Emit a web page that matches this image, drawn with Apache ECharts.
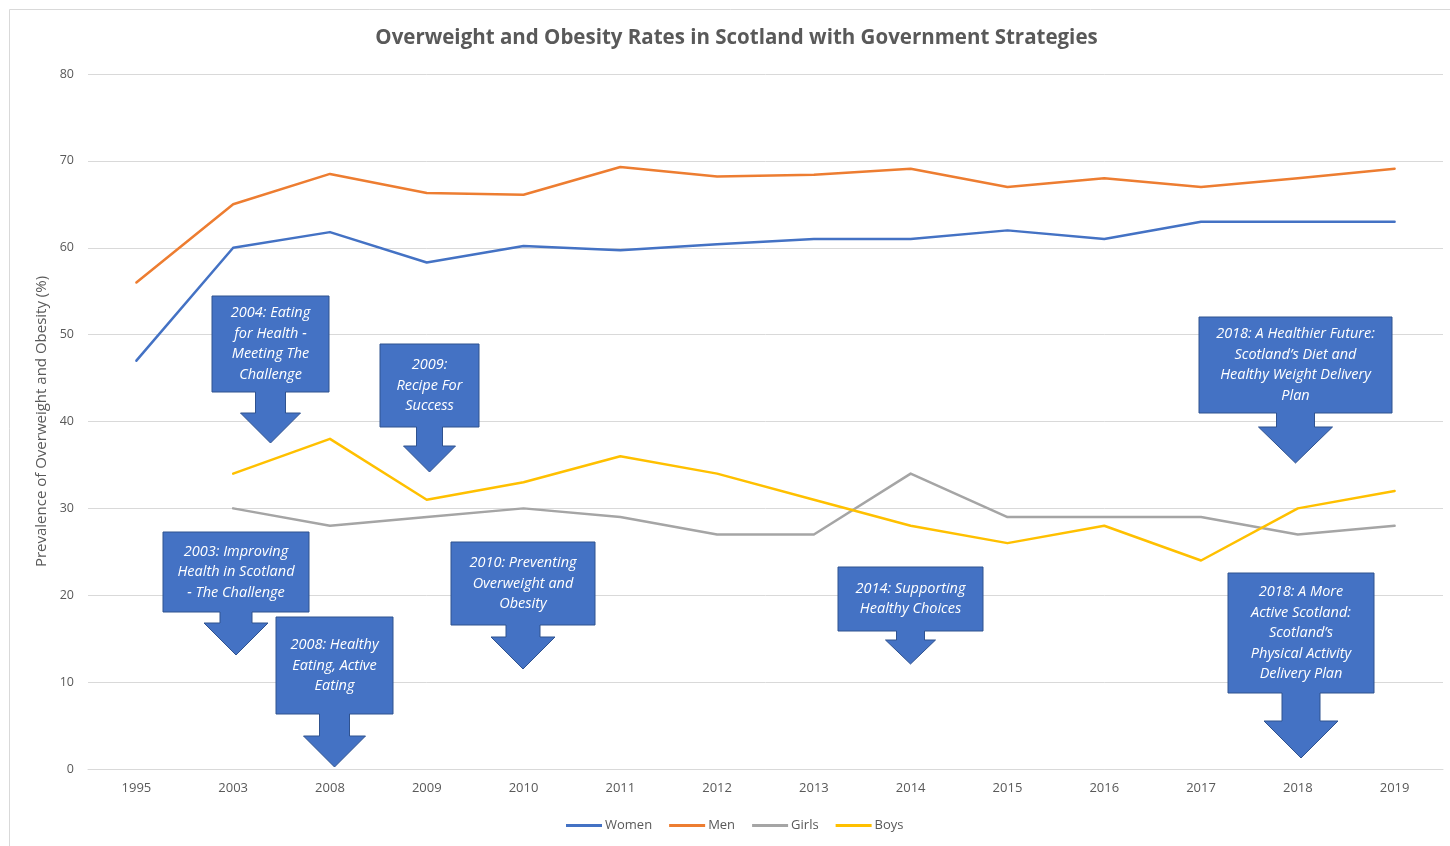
<!DOCTYPE html>
<html>
<head>
<meta charset="utf-8">
<script src="https://cdn.jsdelivr.net/npm/echarts@6/dist/echarts.min.js"></script>
<style>
  html, body { margin: 0; padding: 0; background: #ffffff; }
  #chart { width: 1450px; height: 846px; }
</style>
</head>
<body>
<div id="chart"></div>
<script>
// Survey years (category axis)
const years = ['1995', '2003', '2008', '2009', '2010', '2011', '2012', '2013', '2014', '2015', '2016', '2017', '2018', '2019'];

// Prevalence of overweight and obesity (%)
const women = [47, 60, 61.8, 58.3, 60.2, 59.7, 60.4, 61, 61, 62, 61, 63, 63, 63];
const men   = [56, 65, 68.5, 66.3, 66.1, 69.3, 68.2, 68.4, 69.1, 67, 68, 67, 68, 69.1];
const girls = [null, 30, 28, 29, 30, 29, 27, 27, 34, 29, 29, 29, 27, 28];
const boys  = [null, 34, 38, 31, 33, 36, 34, 31, 28, 26, 28, 24, 30, 32];

// Government strategy call-out texts
const strategies = [
  '2004: Eating\nfor Health -\nMeeting The\nChallenge',
  '2009:\nRecipe For\nSuccess',
  '2003: Improving\nHealth in Scotland\n- The Challenge',
  '2008: Healthy\nEating, Active\nEating',
  '2010: Preventing\nOverweight and\nObesity',
  '2014: Supporting\nHealthy Choices',
  '2018: A Healthier Future:\nScotland\u2019s Diet and\nHealthy Weight Delivery\nPlan',
  '2018: A More\nActive Scotland:\nScotland\u2019s\nPhysical Activity\nDelivery Plan'
];

// Call-out placement (box edges, stem/head half-widths, head top and tip), in pixels
const calloutLayout = [
  { x0: 212, x1: 329, y0: 296, y1: 392, stem: 15, head: 30, headTop: 413, tip: 443 },
  { x0: 380, x1: 479, y0: 344, y1: 427, stem: 13, head: 26, headTop: 446, tip: 472 },
  { x0: 163, x1: 309, y0: 532, y1: 612, stem: 16, head: 32, headTop: 623, tip: 655 },
  { x0: 276, x1: 393, y0: 617, y1: 714, stem: 15, head: 31, headTop: 736, tip: 767 },
  { x0: 451, x1: 595, y0: 542, y1: 625, stem: 17, head: 32, headTop: 637, tip: 669 },
  { x0: 838, x1: 983, y0: 567, y1: 631, stem: 14, head: 25, headTop: 640, tip: 664 },
  { x0: 1199, x1: 1392, y0: 317, y1: 413, stem: 19, head: 37, headTop: 427, tip: 463 },
  { x0: 1228, x1: 1374, y0: 573, y1: 693, stem: 19, head: 37, headTop: 721, tip: 758 }
];

const seriesDefs = [
  { name: 'Women', data: women, color: '#4472C4' },
  { name: 'Men',   data: men,   color: '#ED7D31' },
  { name: 'Girls', data: girls, color: '#A5A5A5' },
  { name: 'Boys',  data: boys,  color: '#FFC000' }
];

const textColor = '#595959';
const gridColor = '#D9D9D9';
const calloutFill = '#4472C4';
const calloutStroke = '#2F528F';

function calloutGraphics() {
  const out = [];
  strategies.forEach((txt, i) => {
    const L = calloutLayout[i];
    const cx = (L.x0 + L.x1) / 2;
    const pts = [
      [L.x0, L.y0], [L.x1, L.y0], [L.x1, L.y1],
      [cx + L.stem, L.y1], [cx + L.stem, L.headTop], [cx + L.head, L.headTop],
      [cx, L.tip],
      [cx - L.head, L.headTop], [cx - L.stem, L.headTop], [cx - L.stem, L.y1],
      [L.x0, L.y1]
    ];
    out.push({
      type: 'polygon',
      shape: { points: pts },
      style: { fill: calloutFill, stroke: calloutStroke, lineWidth: 1 },
      z: 100
    });
    out.push({
      type: 'text',
      x: cx,
      y: (L.y0 + L.y1) / 2,
      style: {
        text: txt,
        fill: '#ffffff',
        font: 'italic 14.5px "Open Sans"',
        align: 'center',
        verticalAlign: 'middle',
        lineHeight: 20.5
      },
      z: 101
    });
  });
  return out;
}

const chart = echarts.init(document.getElementById('chart'), null, { renderer: 'canvas' });

chart.setOption({
  backgroundColor: '#ffffff',
  animation: false,
  title: {
    text: 'Overweight and Obesity Rates in Scotland with Government Strategies',
    left: 731.5,
    textAlign: 'center',
    top: 23,
    textStyle: { color: textColor, fontSize: 20.5, fontWeight: 'bold', fontFamily: 'Open Sans' }
  },
  grid: { left: 88, right: 7, top: 74, bottom: 77, containLabel: false },
  legend: {
    data: seriesDefs.map(s => s.name),
    bottom: 9,
    left: 561,
    icon: 'rect',
    itemWidth: 36,
    itemHeight: 3,
    itemGap: 17,
    textStyle: { color: textColor, fontSize: 13, fontFamily: 'Open Sans', padding: [0, 0, 0, -2] }
  },
  xAxis: {
    type: 'category',
    data: years,
    boundaryGap: true,
    axisLine: { show: true, lineStyle: { color: gridColor, width: 1 } },
    axisTick: { show: false },
    axisLabel: { color: textColor, fontSize: 13, fontFamily: 'Open Sans', margin: 13 }
  },
  yAxis: {
    type: 'value',
    min: 0,
    max: 80,
    interval: 10,
    name: 'Prevalence of Overweight and Obesity (%)',
    nameLocation: 'middle',
    nameGap: 38,
    nameTextStyle: { color: textColor, fontSize: 15, fontFamily: 'Open Sans' },
    axisLine: { show: false },
    axisTick: { show: false },
    axisLabel: { color: textColor, fontSize: 12.5, fontFamily: 'Open Sans', margin: 14 },
    splitLine: { lineStyle: { color: gridColor, width: 1 } }
  },
  series: seriesDefs.map(s => ({
    name: s.name,
    type: 'line',
    data: s.data,
    showSymbol: false,
    symbol: 'none',
    connectNulls: false,
    lineStyle: { color: s.color, width: 2.5, cap: 'round', join: 'round' },
    itemStyle: { color: s.color },
    z: 3
  })),
  graphic: [
    {
      type: 'rect',
      shape: { x: 9.5, y: 9.5, width: 1500, height: 900 },
      style: { fill: null, stroke: gridColor, lineWidth: 1 },
      z: -1,
      silent: true
    }
  ].concat(calloutGraphics())
});
</script>
</body>
</html>
